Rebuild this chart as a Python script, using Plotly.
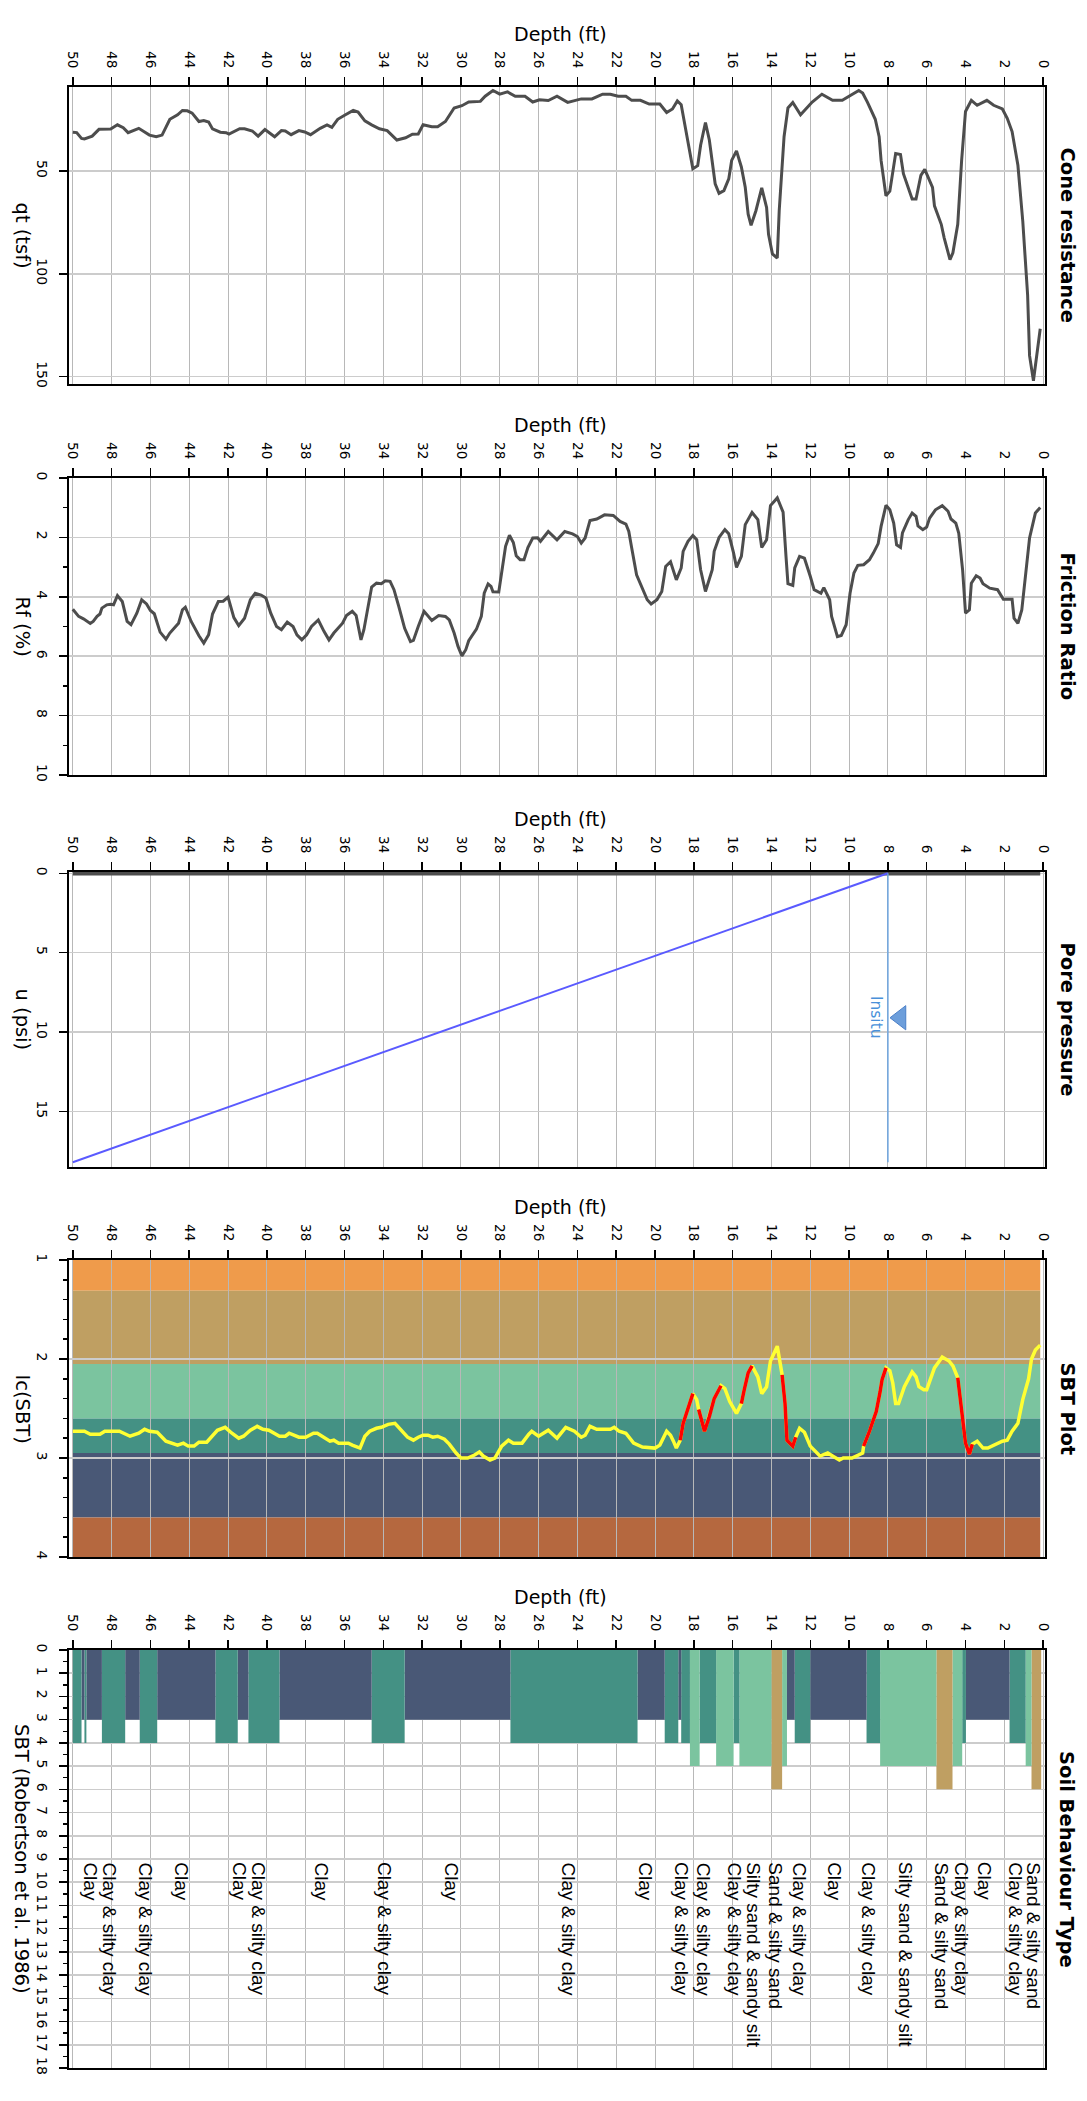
import plotly.graph_objects as go

W, H = 1087, 2101

# ---------------- data ----------------
depth_ticks = list(range(0, 51, 2))

qt_depth = [0.15, 0.3, 0.5, 0.7, 0.8, 1.05, 1.3, 1.6, 1.85, 2.1, 2.55, 2.9, 3.4, 3.7, 4.0, 4.2, 4.4, 4.65, 4.8,
            5.1, 5.25, 5.6, 5.7, 6.1, 6.3, 6.55, 6.75, 7.2, 7.35, 7.6, 7.9, 8.1, 8.35, 8.45, 8.65, 9.05, 9.3,
            9.5, 9.85, 10.35, 10.85, 11.4, 11.9, 12.5, 12.9, 13.15, 13.35, 13.6, 13.7, 13.95, 14.15, 14.25,
            14.5, 14.8, 15.05, 15.2, 15.35, 15.55, 15.8, 16.05, 16.2, 16.45, 16.7, 16.9, 17.2, 17.4, 17.65,
            17.8, 18.05, 18.4, 18.65, 18.85, 19.1, 19.4, 19.75, 20.3, 20.75, 21.2, 21.5, 21.9, 22.3, 22.7,
            23.25, 23.8, 24.15, 24.5, 25.05, 25.5, 25.95, 26.3, 26.7, 27.2, 27.6, 28.0, 28.35, 28.75, 29.0,
            29.6, 29.95, 30.35, 30.8, 31.2, 31.5, 31.95, 32.2, 32.5, 32.85, 33.3, 33.8, 34.2, 34.6, 34.95,
            35.3, 35.55, 35.95, 36.35, 36.65, 36.9, 37.25, 37.75, 38.05, 38.35, 38.75, 39.05, 39.25, 39.6,
            40.1, 40.45, 40.75, 41.15, 41.4, 41.95, 42.1, 42.4, 42.8, 43.0, 43.25, 43.5, 43.85, 44.1, 44.35,
            44.6, 45.0, 45.4, 45.7, 46.05, 46.6, 47.15, 47.4, 47.7, 48.05, 48.65, 49.0, 49.4, 49.55, 49.8, 50.0]
qt_tsf = [126.7, 138, 152, 139.8, 110.3, 74.3, 47.2, 30.8, 24.3, 19.8, 18, 15.6, 18, 15.6, 21, 44.8, 75.9, 89.8, 93.1,
          82.5, 75.9, 66.9, 57.9, 49.2, 52.1, 63.6, 63.6, 51.3, 42, 41.5, 59.8, 62, 44.8, 33.3, 24.8, 16.6, 12,
          10.8, 12.8, 15.6, 15.6, 12.6, 16.4, 22.6, 16.6, 19.3, 33.3, 69.3, 92.3, 90.3, 80.8, 67.7,
          58.2, 69.3, 76.4, 71, 57.9, 48, 40.2, 44.8, 53.8, 59.5, 60.8, 56.2, 34.9, 26.4, 37.4,
          47.4, 48.9, 30, 17.7, 15.9, 19.8, 21.5, 17.4, 17.4, 15.6, 15.6, 13.6, 13.6, 12.6, 12.6,
          14.9, 14.9, 15.7, 16.6, 13.6, 15.7, 15.3, 16.4, 13.6, 13.6, 11.5, 12.6, 10.8, 13.6, 16.1,
          16.4, 18.2, 19.3, 25.9, 28.4, 28.4, 27.5, 32, 32.1, 33.8, 34.9, 30.3, 29.4, 27.5, 25.6,
          21.3, 20.5, 22.6, 24.8, 28.7, 27.5, 29.2, 32.3, 31, 30.3, 32.3, 30.5, 30.3, 33.3,
          29.8, 33, 30.5, 29.4, 29.4, 32, 31.3, 31.1, 29.5, 26.1, 25.4, 25.9, 21.8, 20.7, 20.5,
          22.6, 24.8, 32.5, 33.3, 32.5, 29.2, 31.3, 28.9, 27.5, 29.5, 29.7, 33, 34.4, 34.1, 31.3, 31.1]

rf_depth = [0.15, 0.4, 0.7, 0.85, 1.1, 1.3, 1.5, 1.6, 2.05, 2.35, 2.75, 3.1, 3.25, 3.45, 3.7, 3.8, 4.0, 4.15, 4.35,
            4.5, 4.75, 4.9, 5.2, 5.55, 5.85, 6.0, 6.2, 6.45, 6.55, 6.75, 6.95, 7.25, 7.35, 7.55, 7.7, 7.9, 8.1,
            8.35, 8.5, 8.75, 8.95, 9.25, 9.55, 9.75, 9.95, 10.15, 10.4, 10.6, 10.9, 11.0, 11.3, 11.45, 11.8,
            12.0, 12.3, 12.55, 12.8, 12.9, 13.15, 13.25, 13.4, 13.7, 14.05, 14.25, 14.5, 14.7, 15.0, 15.35,
            15.55, 15.8, 15.95, 16.2, 16.4, 16.7, 16.95, 17.05, 17.4, 17.65, 17.85, 18.05, 18.3, 18.55, 18.65,
            18.9, 19.2, 19.45, 19.65, 19.9, 20.2, 20.4, 20.7, 20.95, 21.2, 21.35, 21.5, 21.8, 22.15, 22.6,
            23.0, 23.35, 23.6, 23.8, 24.0, 24.25, 24.65, 25.05, 25.5, 25.9, 26.05, 26.3, 26.55, 26.75, 26.95,
            27.15, 27.3, 27.5, 27.7, 27.95, 28.05, 28.35, 28.45, 28.6, 28.8, 28.95, 29.2, 29.6, 29.75, 29.95,
            30.15, 30.35, 30.6, 30.8, 31.15, 31.5, 31.7, 31.9, 32.2, 32.45, 32.6, 32.9, 33.2, 33.45, 33.65,
            33.9, 34.1, 34.35, 34.6, 34.8, 35.0, 35.15, 35.4, 35.6, 35.9, 36.1, 36.55, 36.8, 37.05, 37.35,
            37.7, 37.95, 38.2, 38.45, 38.65, 38.95, 39.25, 39.5, 39.8, 40.05, 40.3, 40.6, 40.85, 41.15, 41.45,
            41.7, 42.0, 42.25, 42.5, 42.8, 43.0, 43.25, 43.5, 43.9, 44.2, 44.35, 44.55, 44.7, 45.0, 45.2,
            45.5, 45.8, 46.0, 46.2, 46.45, 46.7, 47.0, 47.2, 47.45, 47.7, 47.9, 48.05, 48.25, 48.5, 48.6,
            48.75, 48.95, 49.1, 49.45, 49.7, 50.0]
rf_pct = [0.99, 1.18, 2.02, 2.87, 4.44, 4.89, 4.72, 4.08, 4.08, 3.76, 3.71, 3.56, 3.37, 3.29, 3.54, 4.44, 4.55, 3.09, 1.85,
          1.52, 1.38, 1.12, 0.93, 1.07, 1.35, 1.65, 1.74, 1.61, 1.29, 1.18, 1.4, 1.85, 2.34, 2.25, 1.52, 1.07, 0.92,
          1.63, 2.21, 2.53, 2.75, 2.92, 2.94, 3.2, 3.88, 4.94, 5.3, 5.34, 4.66, 4.1, 3.69, 3.88, 3.76,
          3.31, 2.7, 2.64, 3.03, 3.62, 3.56, 2.64, 1.15, 0.67, 0.93, 2.08, 2.34, 1.4, 1.16, 1.57,
          2.64, 3.01, 2.53, 1.88, 1.74, 2.0, 2.47, 3.09, 3.82, 3.09, 2.08, 1.94, 2.13, 2.47, 3.03,
          3.43, 2.82, 2.98, 3.82, 4.1, 4.24, 4.1, 3.65, 3.26, 2.36, 1.8, 1.55, 1.46, 1.26, 1.24,
          1.38, 1.43, 2.02, 2.19, 1.97, 1.88, 1.8, 2.08, 1.8, 2.13, 2.01, 2.02, 2.34, 2.75, 2.75,
          2.62, 2.17, 1.93, 2.3, 3.31, 3.84, 3.83, 3.65, 3.57, 3.88, 4.66, 5.09, 5.48, 5.78, 5.99,
          5.67, 5.22, 4.78, 4.66, 4.63, 4.8, 4.63, 4.49, 5.0, 5.47, 5.51, 5.06, 4.33, 3.76, 3.48,
          3.46, 3.56, 3.54, 3.67, 4.33, 5.11, 5.45, 4.63, 4.49, 4.63, 4.89, 5.22, 5.45, 5.17, 4.78,
          5.0, 5.28, 5.45, 5.28, 5.0, 4.85, 5.11, 5.0, 4.55, 4.04, 3.94, 3.88, 4.1, 4.72, 4.97,
          4.7, 4.01, 4.15, 4.16, 4.58, 5.28, 5.56, 5.31, 4.83, 4.35, 4.44, 4.89, 5.0, 5.22, 5.43,
          5.19, 4.57, 4.46, 4.24, 4.1, 4.55, 4.94, 4.83, 4.16, 3.96, 4.27, 4.25, 4.27, 4.38, 4.58,
          4.66, 4.83, 4.9, 4.74, 4.66, 4.42]

u2_depth = [0.15, 50.0]
u2_psi = [0.0, 0.0]
hydro_depth = [8.0, 50.0]
hydro_psi = [0.0, 18.2]
insitu_line_depth = [8.0, 8.0]
insitu_line_psi = [0.0, 18.2]
insitu_marker_depth = [7.35]
insitu_marker_psi = [9.1]
insitu_label = "Insitu"

ic_depth = [0.15, 0.4, 0.6, 0.75, 1.05, 1.3, 1.6, 1.85, 2.1, 2.4, 2.85, 3.1, 3.4, 3.65, 3.8, 4.0, 4.2, 4.4, 4.65,
            4.85, 5.2, 5.6, 6.0, 6.15, 6.4, 6.55, 6.75, 7.15, 7.45, 7.6, 7.75, 7.9, 8.1, 8.3, 8.4, 8.6, 8.95,
            9.25, 9.3, 9.5, 9.85, 10.3, 10.5, 10.85, 11.1, 11.5, 11.75, 12.0, 12.3, 12.55, 12.75, 12.9, 13.2,
            13.3, 13.45, 13.7, 14.05, 14.25, 14.5, 14.7, 15.0, 15.2, 15.4, 15.55, 15.8, 16.15, 16.4, 16.6,
            16.95, 17.2, 17.45, 17.75, 17.85, 18.05, 18.3, 18.55, 18.7, 18.9, 19.05, 19.2, 19.4, 19.75, 20.0,
            20.65, 21.1, 21.5, 21.85, 22.1, 22.3, 23.0, 23.35, 23.6, 23.8, 24.15, 24.6, 25.05, 25.5, 26.0,
            26.35, 26.5, 26.85, 27.3, 27.55, 27.9, 28.25, 28.5, 28.85, 29.05, 29.3, 29.65, 30.0, 30.25, 30.6,
            30.85, 31.2, 31.45, 31.7, 31.95, 32.2, 32.45, 32.75, 33.05, 33.4, 33.75, 34.1, 34.35, 34.7, 34.95,
            35.2, 35.6, 35.8, 36.3, 36.55, 36.75, 37.0, 37.4, 37.6, 38.0, 38.35, 38.85, 39.05, 39.35, 39.9,
            40.2, 40.5, 40.85, 41.2, 41.45, 41.8, 42.15, 42.55, 42.8, 43.1, 43.5, 43.75, 44.05, 44.3, 44.6,
            45.0, 45.2, 45.5, 45.65, 46.05, 46.3, 46.6, 47.05, 47.6, 48.35, 48.6, 49.1, 49.4, 50.0]
ic_sbt = [1.86, 1.91, 2.0, 2.2, 2.41, 2.65, 2.73, 2.82, 2.83, 2.86, 2.9, 2.9, 2.83, 2.86, 2.96, 2.85, 2.48, 2.19, 2.07,
          2.02, 1.98, 2.09, 2.31, 2.31, 2.28, 2.18, 2.13, 2.28, 2.45, 2.45, 2.24, 2.12, 2.09, 2.21, 2.33, 2.53, 2.73,
          2.88, 2.95, 2.97, 3.0, 3.0, 3.02, 2.98, 2.95, 2.98, 2.93, 2.88, 2.74, 2.7, 2.79, 2.88, 2.82,
          2.45, 2.16, 1.87, 2.02, 2.28, 2.35, 2.18, 2.07, 2.14, 2.31, 2.45, 2.55, 2.43, 2.3, 2.27,
          2.4, 2.58, 2.73, 2.51, 2.41, 2.35, 2.5, 2.65, 2.82, 2.9, 2.83, 2.77, 2.73, 2.87, 2.9,
          2.89, 2.85, 2.75, 2.73, 2.69, 2.71, 2.71, 2.68, 2.77, 2.79, 2.73, 2.69, 2.8, 2.72, 2.78,
          2.73, 2.76, 2.85, 2.85, 2.82, 2.88, 3.0, 3.02, 2.98, 2.94, 2.97, 3.0, 3.0, 2.95, 2.86,
          2.81, 2.78, 2.79, 2.77, 2.77, 2.79, 2.82, 2.79, 2.73, 2.65, 2.66, 2.69, 2.7, 2.73, 2.78,
          2.9, 2.87, 2.85, 2.85, 2.82, 2.83, 2.8, 2.75, 2.75, 2.79, 2.79, 2.75, 2.78, 2.78, 2.72,
          2.71, 2.68, 2.72, 2.78, 2.8, 2.75, 2.69, 2.72, 2.77, 2.84, 2.84, 2.88, 2.88, 2.85, 2.87,
          2.84, 2.83, 2.77, 2.74, 2.73, 2.71, 2.75, 2.78, 2.73, 2.73, 2.76, 2.76, 2.73, 2.73]
ic_red_intervals = [(3.65, 4.4), (8.1, 9.25), (12.75, 13.45), (15.0, 15.55), (16.6, 17.75), (18.05, 18.7)]

ic_zone_bounds = [1.0, 1.31, 2.05, 2.6, 2.95, 3.6, 4.0]
ic_zone_colors = ["#ef9b4b", "#bf9f62", "#7bc49f", "#449184", "#495876", "#b5683f"]

sbt_top = [0.1, 0.6, 0.9, 1.73, 3.98, 4.17, 4.67, 5.5, 8.4, 9.1, 12.0, 12.8, 13.2, 13.45, 14.0, 15.65, 15.95,
           16.85, 17.7, 18.2, 18.65, 18.8, 19.5, 20.9, 27.45, 32.9, 34.6, 39.35, 40.95, 41.5, 42.65, 45.65,
           46.55, 47.3, 48.5, 49.3, 49.4, 49.55]
sbt_bottom = [0.6, 0.9, 1.73, 3.98, 4.17, 4.67, 5.5, 8.4, 9.1, 12.0, 12.8, 13.2, 13.45, 14.0, 15.65, 15.95, 16.85,
              17.7, 18.2, 18.65, 18.8, 19.5, 20.9, 27.45, 32.9, 34.6, 39.35, 40.95, 41.5, 42.65, 45.65, 46.55,
              47.3, 48.5, 49.3, 49.4, 49.55, 50.0]
sbt_zone = [6, 5, 4, 3, 4, 5, 6, 5, 4, 3, 4, 3, 5, 6, 5, 4, 5,
            4, 5, 4, 3, 4, 3, 4, 3, 4, 3, 4, 3, 4, 3, 4,
            3, 4, 3, 4, 3, 4]
sbt_zone_colors = {3: "#495876", 4: "#449184", 5: "#7bc49f", 6: "#bf9f62"}

sbt_label_depth = [0.5, 1.4, 3.05, 4.17, 5.25, 7.05, 8.98, 10.75, 12.55, 13.8, 14.9, 15.9, 17.5, 18.6, 20.5,
                   24.45, 30.5, 33.9, 37.2, 40.4, 41.4, 44.4, 46.25, 48.1, 49.1]
sbt_label_text = ["Sand & silty sand", "Clay & silty clay", "Clay", "Clay & silty clay", "Sand & silty sand",
                  "Silty sand & sandy silt", "Clay & silty clay", "Clay", "Clay & silty clay", "Sand & silty sand",
                  "Silty sand & sandy silt", "Clay & silty clay", "Clay & silty clay", "Clay & silty clay", "Clay",
                  "Clay & silty clay", "Clay", "Clay & silty clay", "Clay", "Clay & silty clay", "Clay", "Clay",
                  "Clay & silty clay", "Clay & silty clay", "Clay"]

panel_titles = ["Cone resistance", "Friction Ratio", "Pore pressure", "SBT Plot", "Soil Behaviour Type"]
y_titles = ["qt (tsf)", "Rf (%)", "u (psi)", "Ic(SBT)", "SBT (Robertson et al. 1986)"]
depth_title = "Depth (ft)"

# ---------------- layout geometry (pixels) ----------------
X0, X1 = 69.3, 1044.5
panels = [(87, 384), (478, 775), (872, 1167), (1260, 1557), (1650, 2068)]
DEPTH_RANGE = [50.18, -0.07]
FONT = "DejaVu Sans"
CURVE = "#4d4d4d"

fig = go.Figure()


def ax_names(i):
    s = "" if i == 1 else str(i)
    return "x" + s, "y" + s, "xaxis" + s, "yaxis" + s


def minor(d):
    return dict(dtick=d, ticks="outside", ticklen=4, tickwidth=1.5, tickcolor="black", showgrid=False)


y_specs = [
    dict(range=[153.6, 9.1], tickmode="array", tickvals=[50, 100, 150]),
    dict(range=[10, 0], dtick=2, tick0=0, minor=minor(1)),
    dict(range=[18.5, -0.08], dtick=5, tick0=0),
    dict(range=[4, 1], dtick=1, tick0=0, minor=minor(0.2)),
    dict(range=[18, 0], dtick=1, tick0=0, minor=minor(0.5)),
]

layout = dict(width=W, height=H, margin=dict(l=0, r=0, t=0, b=0, autoexpand=False), paper_bgcolor="white",
              plot_bgcolor="white", showlegend=False, hovermode=False)
annotations = []

for i, (top, bot) in enumerate(panels, start=1):
    xn, yn, xk, yk = ax_names(i)
    layout[xk] = dict(domain=[X0 / W, X1 / W], anchor=yn, side="top", range=DEPTH_RANGE, automargin=False,
                      tickmode="array", tickvals=depth_ticks, tickangle=90, ticks="outside", ticklen=8,
                      tickwidth=1.5, tickcolor="black", showline=True, linecolor="black", linewidth=2,
                      mirror=True, showgrid=True, gridcolor="#b8b8b8", gridwidth=1, zeroline=False,
                      ticklabelstandoff=4,
                      tickfont=dict(family=FONT, size=13.5, color="black"))
    yd = dict(domain=[1 - bot / H, 1 - top / H], anchor=xn, tickangle=90, ticks="outside", ticklen=8,
              automargin=False, tickwidth=1.5, tickcolor="black", showline=True, linecolor="black",
              linewidth=2, mirror=True, showgrid=True, gridcolor="#cccccc", gridwidth=1.5, zeroline=False,
              ticklabelstandoff=5,
              tickfont=dict(family=FONT, size=14, color="black"))
    yd.update(y_specs[i - 1])
    layout[yk] = yd
    mid = (top + bot) / 2
    annotations.append(dict(text=depth_title, xref="paper", yref="paper", x=560 / W,
                            y=1 - (top - 53) / H, xanchor="center", yanchor="middle", showarrow=False,
                            font=dict(family=FONT, size=19, color="black")))
    annotations.append(dict(text=y_titles[i - 1], xref="paper", yref="paper", x=22 / W, y=1 - mid / H,
                            xanchor="center", yanchor="middle", textangle=90, showarrow=False,
                            font=dict(family=FONT, size=19.5, color="black")))
    annotations.append(dict(text=panel_titles[i - 1], xref="paper", yref="paper", x=1067 / W, y=1 - mid / H,
                            xanchor="center", yanchor="middle", textangle=90, showarrow=False,
                            font=dict(family=FONT, size=19.5, color="black", weight="bold")))

# Panel 1: cone resistance
fig.add_trace(go.Scatter(x=qt_depth, y=qt_tsf, mode="lines", line=dict(color=CURVE, width=3),
                         xaxis="x", yaxis="y"))
# Panel 2: friction ratio
fig.add_trace(go.Scatter(x=rf_depth, y=rf_pct, mode="lines", line=dict(color=CURVE, width=3),
                         xaxis="x2", yaxis="y2"))
# Panel 3: pore pressure
fig.add_trace(go.Scatter(x=u2_depth, y=u2_psi, mode="lines", line=dict(color=CURVE, width=4.5),
                         xaxis="x3", yaxis="y3"))
fig.add_trace(go.Scatter(x=hydro_depth, y=hydro_psi, mode="lines", line=dict(color="#5a5aff", width=2),
                         xaxis="x3", yaxis="y3"))
fig.add_trace(go.Scatter(x=insitu_line_depth, y=insitu_line_psi, mode="lines",
                         line=dict(color="#6fa6e0", width=1.5), xaxis="x3", yaxis="y3"))
fig.add_trace(go.Scatter(x=insitu_marker_depth, y=insitu_marker_psi, mode="markers",
                         marker=dict(symbol="triangle-left", size=21, color="#6c9edb",
                                     line=dict(color="#4a7fc8", width=1)),
                         xaxis="x3", yaxis="y3"))
annotations.append(dict(text=insitu_label, xref="x3", yref="y3", x=8.62, y=insitu_marker_psi[0],
                        xanchor="center", yanchor="middle", textangle=90, showarrow=False,
                        font=dict(family=FONT, size=15.5, color="#4a90d9")))

# Panel 4: SBT plot - zone bands
shapes = []
for k in range(len(ic_zone_colors)):
    shapes.append(dict(type="rect", xref="x4", yref="y4", x0=min(ic_depth), x1=max(ic_depth),
                       y0=ic_zone_bounds[k], y1=ic_zone_bounds[k + 1], fillcolor=ic_zone_colors[k],
                       line=dict(width=0), layer="below"))
fig.add_trace(go.Scatter(x=ic_depth, y=ic_sbt, mode="lines", line=dict(color="#ffff33", width=3.5),
                         xaxis="x4", yaxis="y4"))
red_y = [v if any(a <= d <= b for a, b in ic_red_intervals) else None for d, v in zip(ic_depth, ic_sbt)]
fig.add_trace(go.Scatter(x=ic_depth, y=red_y, mode="lines", line=dict(color="#ff0000", width=3.5),
                         connectgaps=False, xaxis="x4", yaxis="y4"))

# Panel 5: Soil behaviour type bars
centers = [(a + b) / 2 for a, b in zip(sbt_top, sbt_bottom)]
widths = [b - a for a, b in zip(sbt_top, sbt_bottom)]
fig.add_trace(go.Bar(x=centers, y=sbt_zone, width=widths, base=0,
                     marker=dict(color=[sbt_zone_colors[z] for z in sbt_zone], line=dict(width=0)),
                     xaxis="x5", yaxis="y5"))
for d, t in zip(sbt_label_depth, sbt_label_text):
    annotations.append(dict(text=t, xref="x5", yref="y5", x=d, y=9.05, xanchor="center", yanchor="top",
                            textangle=90, showarrow=False,
                            font=dict(family="Liberation Sans, Arial", size=19, color="black")))

layout["annotations"] = annotations
layout["shapes"] = shapes
fig.update_layout(**layout)
fig.write_html("out.html", config={"displayModeBar": False, "staticPlot": True},
               post_script="document.body.style.margin='0px';")
